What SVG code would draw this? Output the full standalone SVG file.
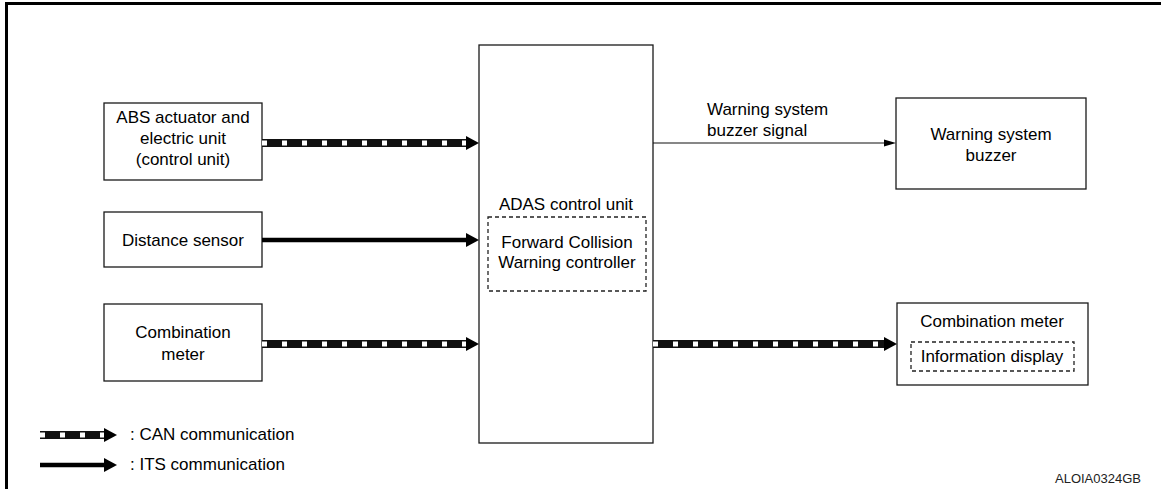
<svg xmlns="http://www.w3.org/2000/svg" width="1161" height="489" viewBox="0 0 1161 489">
  <style>
    .box { fill: #fff; stroke: #1a1a1a; stroke-width: 1.3; }
    .dbox { fill: none; stroke: #222; stroke-width: 1.3; stroke-dasharray: 4 3; }
    .t { font-family: "Liberation Sans", Arial, sans-serif; font-size: 17px; fill: #000; }
    .c { text-anchor: middle; }
    .can-base { stroke: #111; stroke-width: 8; fill: none; }
    .can-dash { stroke: #fff; stroke-width: 5; fill: none; stroke-dasharray: 5 15; }
    .its { stroke: #000; stroke-width: 4.5; fill: none; }
    .thin { stroke: #111; stroke-width: 1.2; fill: none; }
    .head { fill: #000; }
  </style>

  <rect width="1161" height="489" fill="#fff"/>
  <!-- page frame: top and left edges -->
  <path d="M6.5 489 V3.5 H1161" fill="none" stroke="#000" stroke-width="3"/>

  <g id="abs-unit">
    <rect class="box" x="104" y="103" width="158" height="77"/>
    <text class="t c" x="183" y="123">ABS actuator and</text>
    <text class="t c" x="183" y="144">electric unit</text>
    <text class="t c" x="183" y="165">(control unit)</text>
  </g>

  <g id="distance-sensor">
    <rect class="box" x="104" y="212" width="158" height="55"/>
    <text class="t c" x="183" y="246">Distance sensor</text>
  </g>

  <g id="combination-meter-in">
    <rect class="box" x="104" y="304" width="158" height="77"/>
    <text class="t c" x="183" y="338">Combination</text>
    <text class="t c" x="183" y="360">meter</text>
  </g>

  <g id="adas-control-unit">
    <rect class="box" x="479" y="45" width="174" height="398"/>
    <text class="t c" x="566" y="210">ADAS control unit</text>
    <rect class="dbox" x="488" y="217" width="158" height="74"/>
    <text class="t c" x="567" y="248">Forward Collision</text>
    <text class="t c" x="567" y="268">Warning controller</text>
  </g>

  <g id="warning-buzzer">
    <rect class="box" x="896" y="98" width="190" height="91"/>
    <text class="t c" x="991" y="140">Warning system</text>
    <text class="t c" x="991" y="161">buzzer</text>
  </g>

  <g id="combination-meter-out">
    <rect class="box" x="897" y="303" width="191" height="82"/>
    <text class="t c" x="992" y="327">Combination meter</text>
    <rect class="dbox" x="911" y="342" width="163" height="29"/>
    <text class="t c" x="992" y="362">Information display</text>
  </g>

  <g id="connectors">
    <!-- CAN: ABS -> ADAS -->
    <line class="can-base" x1="262" y1="143" x2="468" y2="143"/>
    <line class="can-dash" x1="262" y1="143" x2="466" y2="143"/>
    <polygon class="head" points="466,136 479,143 466,150"/>

    <!-- ITS: distance sensor -> ADAS -->
    <line class="its" x1="262" y1="240" x2="468" y2="240"/>
    <polygon class="head" points="466,233 479,240 466,247"/>

    <!-- CAN: combination meter -> ADAS -->
    <line class="can-base" x1="262" y1="344" x2="468" y2="344"/>
    <line class="can-dash" x1="262" y1="344" x2="466" y2="344"/>
    <polygon class="head" points="466,337 479,344 466,351"/>

    <!-- buzzer signal -->
    <line class="thin" x1="653" y1="143" x2="886" y2="143"/>
    <polygon class="head" points="884,139.5 896,143 884,146.5"/>
    <text class="t" x="707" y="115">Warning system</text>
    <text class="t" x="707" y="136">buzzer signal</text>

    <!-- CAN: ADAS -> combination meter -->
    <line class="can-base" x1="653" y1="344" x2="885" y2="344"/>
    <line class="can-dash" x1="653" y1="344" x2="883" y2="344"/>
    <polygon class="head" points="884,337 897,344 884,351"/>
  </g>

  <g id="legend">
    <line class="can-base" x1="40" y1="435" x2="106" y2="435"/>
    <line class="can-dash" x1="40" y1="435" x2="104" y2="435"/>
    <polygon class="head" points="104,428 117,435 104,442"/>
    <text class="t" x="130" y="440">: CAN communication</text>

    <line class="its" x1="40" y1="465" x2="106" y2="465"/>
    <polygon class="head" points="104,458 117,465 104,472"/>
    <text class="t" x="130" y="470">: ITS communication</text>
  </g>

  <text x="1055" y="483" font-family="Liberation Sans, Arial, sans-serif" font-size="13" fill="#222">ALOIA0324GB</text>
</svg>
